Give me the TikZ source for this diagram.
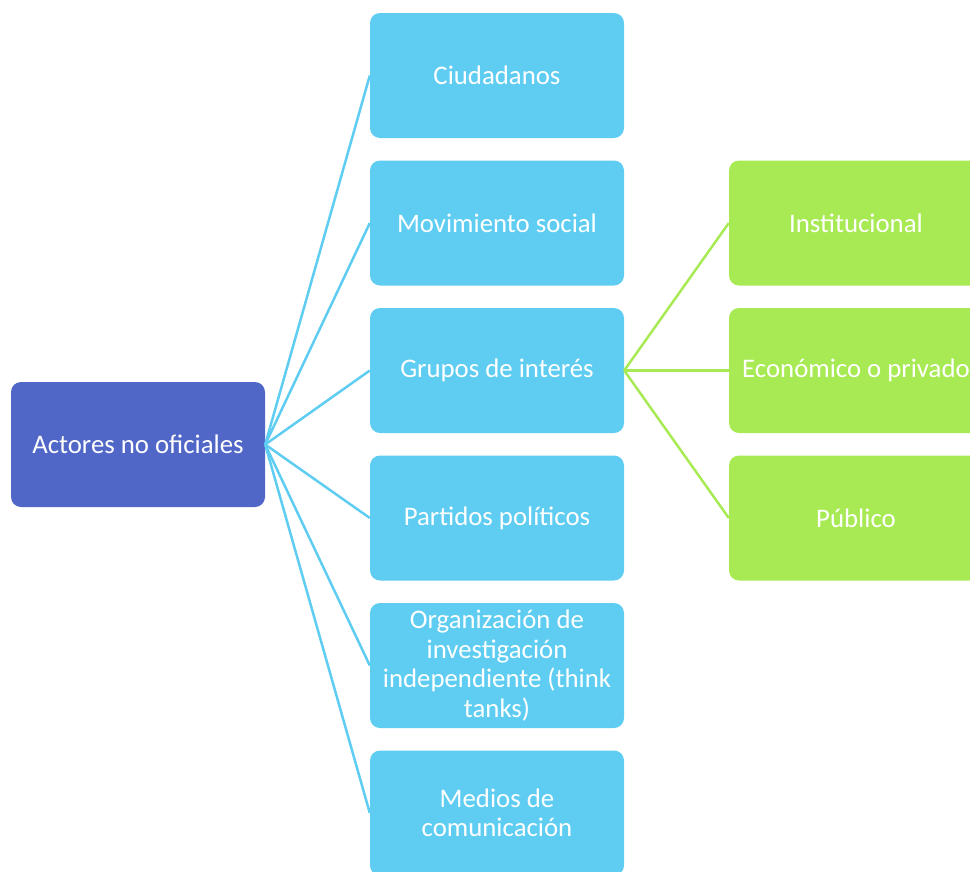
\documentclass[tikz,border=0pt]{standalone}
\usepackage{fontspec}
\setmainfont{Carlito}
\definecolor{rootblue}{RGB}{80,103,200}
\definecolor{leafblue}{RGB}{95,205,242}
\definecolor{leafgreen}{RGB}{168,234,84}
\tikzset{
  box/.style={rounded corners=10pt, minimum width=254pt, minimum height=125pt,
    text=white, align=center, inner sep=0pt,
    font=\fontsize{26.8}{29.5}\selectfont},
  rootbox/.style={box, fill=rootblue},
  bluebox/.style={box, fill=leafblue},
  greenbox/.style={box, fill=leafgreen}
}
\begin{document}
\begin{tikzpicture}[x=1pt,y=-1pt]
      \useasboundingbox (0,0) rectangle (970,871);
      \node[rootbox] (0) at (138,444.5) {Actores no oficiales};
      \node[bluebox] (1) at (497,75.5) {Ciudadanos};
      \node[bluebox] (2) at (497,223) {Movimiento social};
      \node[bluebox] (3) at (497,370.5) {Grupos de interés};
      \node[bluebox] (4) at (497,518) {Partidos políticos};
      \node[bluebox] (5) at (497,665.5) {Organización de\\investigación\\independiente (think\\tanks)};
      \node[bluebox] (6) at (497,813) {Medios de\\comunicación};
      \node[greenbox] (7) at (856,223) {Institucional};
      \node[greenbox] (8) at (856,370.5) {Económico o privado};
      \node[greenbox] (9) at (856,518) {Público};
      \begin{scope}[-, line width=2.5pt, leafblue]
        \draw (0.east) to (1.west);
        \draw (0.east) to (2.west);
        \draw (0.east) to (3.west);
        \draw (0.east) to (4.west);
        \draw (0.east) to (5.west);
        \draw (0.east) to (6.west);
      \end{scope}
      \begin{scope}[-, line width=2.5pt, leafgreen]
        \draw (3.east) to (7.west);
        \draw (3.east) to (8.west);
        \draw (3.east) to (9.west);
      \end{scope}
    \end{tikzpicture}
\end{document}
